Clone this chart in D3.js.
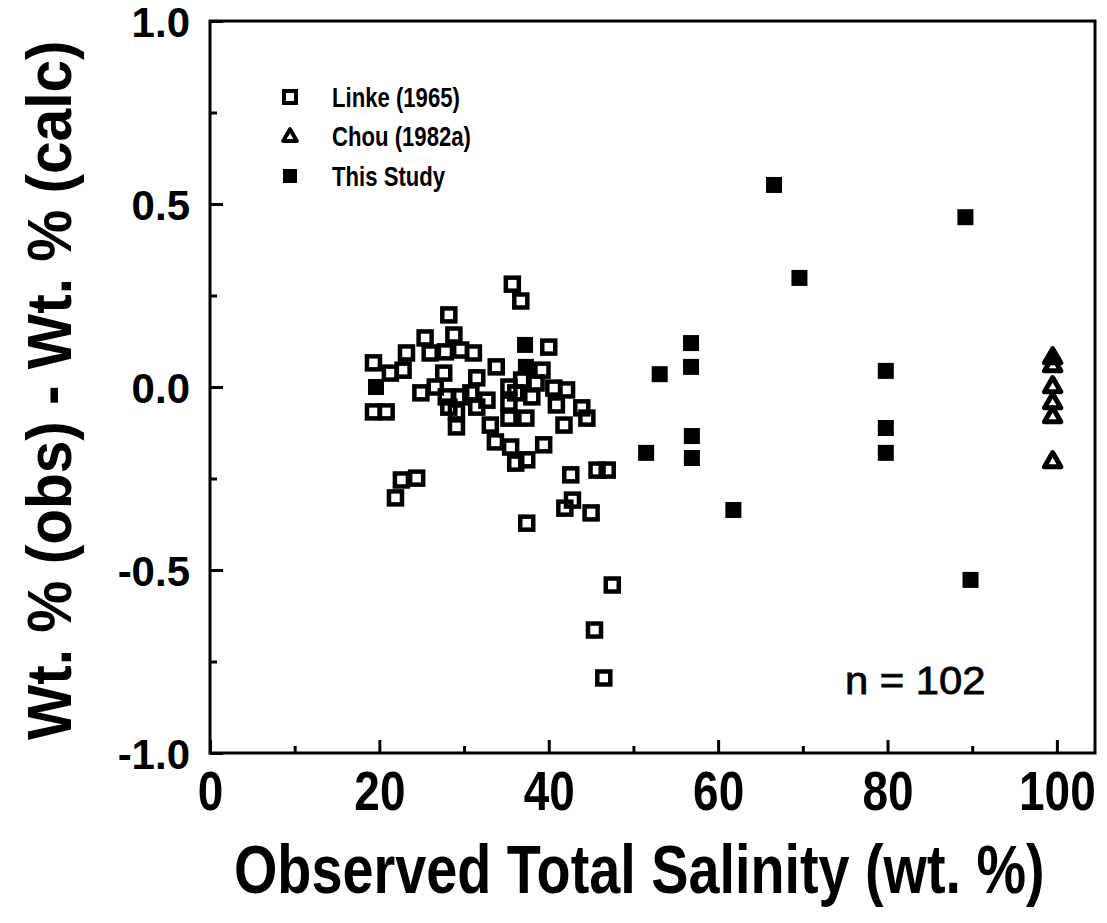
<!DOCTYPE html>
<html>
<head>
<meta charset="utf-8">
<script src="https://cdn.jsdelivr.net/npm/d3@7"></script>
<style>
  html, body { margin: 0; padding: 0; background: #fff; }
  svg { display: block; }
  text { font-family: "Liberation Sans", Arial, Helvetica, sans-serif; fill: #000; }
</style>
</head>
<body>
<svg id="chart" width="1107" height="923"></svg>
<script>
// ---- Data ----
const linkeX = [35.7, 36.7, 28.2, 25.4, 28.8, 23.2, 26.0, 27.8, 29.6, 31.1,
                19.3, 21.3, 22.8, 33.8, 40.0, 39.2, 27.6, 31.5, 26.6, 24.9,
                27.9, 29.6, 30.8, 32.7, 35.3, 36.8, 38.5, 40.6, 42.1, 36.1,
                38.0, 40.9, 28.2, 29.1, 31.5, 35.3, 19.3, 20.8, 29.1, 33.1,
                35.3, 37.3, 41.8, 43.9, 44.5, 33.7, 35.5, 36.1, 37.4, 39.4,
                22.6, 24.4, 21.9, 42.6, 45.7, 46.9, 42.8, 41.9, 45.0, 37.4,
                47.5, 45.4, 46.5];
const linkeY = [0.281, 0.235, 0.197, 0.134, 0.142, 0.093, 0.093, 0.096, 0.101, 0.093,
                0.066, 0.038, 0.046, 0.055, 0.109, 0.046, 0.038, 0.025, 0.000, -0.016,
                -0.027, -0.027, -0.016, -0.036, 0.000, 0.019, 0.011, -0.003, -0.008, -0.016,
                -0.027, -0.049, -0.055, -0.068, -0.055, -0.044, -0.068, -0.068, -0.109, -0.104,
                -0.085, -0.085, -0.104, -0.057, -0.085, -0.150, -0.164, -0.208, -0.199, -0.158,
                -0.254, -0.249, -0.303, -0.240, -0.227, -0.227, -0.309, -0.331, -0.344, -0.372,
                -0.541, -0.664, -0.795];

const chouX = [99.5, 99.5, 99.5, 99.5, 99.5, 99.5];
const chouY = [0.079, 0.057, 0.000, -0.044, -0.082, -0.205];

const studyX = [19.6, 37.2, 37.3, 51.5, 53.1, 56.8, 56.8, 56.9, 56.9, 61.8,
                66.6, 69.6, 79.8, 79.8, 79.8, 89.2, 89.8];
const studyY = [0.000, 0.115, 0.055, -0.180, 0.035, 0.120, 0.055, -0.134, -0.194, -0.336,
                0.552, 0.298, 0.044, -0.112, -0.180, 0.464, -0.527];

const xMajorTicks = [0, 20, 40, 60, 80, 100];
const xMinorTicks = [10, 30, 50, 70, 90];
const yMajorTicks = [-1.0, -0.5, 0.0, 0.5, 1.0];
const yMinorTicks = [-0.75, -0.25, 0.25, 0.75];

const legendLabels = ["Linke (1965)", "Chou (1982a)", "This Study"];
const xTitle = "Observed Total Salinity (wt. %)";
const yTitle = "Wt. % (obs) - Wt. % (calc)";
const noteText = "n = 102";

// ---- Layout ----
const svg = d3.select("#chart");
const L = 210, R = 1095, T = 21, B = 753;

const x = d3.scaleLinear().domain([0, 104.5]).range([L, R]);
const y = d3.scaleLinear().domain([-1, 1]).range([B, T]);

const fmtY = d => d3.format(".1f")(d).replace("\u2212", "-");

// Axes (ticks inward)
const xAxisMajor = d3.axisBottom(x).tickValues(xMajorTicks).tickSize(-13).tickPadding(17)
  .tickFormat(d3.format("d"));
const xAxisMinor = d3.axisBottom(x).tickValues(xMinorTicks).tickSize(-7).tickFormat("");
const yAxisMajor = d3.axisLeft(y).tickValues(yMajorTicks).tickSize(-13).tickPadding(20)
  .tickFormat(fmtY);
const yAxisMinor = d3.axisLeft(y).tickValues(yMinorTicks).tickSize(-7).tickFormat("");

function styleAxis(g) {
  g.select(".domain").remove();
  g.selectAll(".tick line").attr("stroke", "#000").attr("stroke-width", 3);
}

const gx = svg.append("g").attr("transform", `translate(0,${B})`).call(xAxisMajor).call(styleAxis);
gx.selectAll(".tick text")
  .attr("font-size", 56).attr("font-weight", "bold")
  .attr("font-family", "Liberation Sans, Arial, sans-serif")
  .attr("transform", "scale(0.82,1)");
svg.append("g").attr("transform", `translate(0,${B})`).call(xAxisMinor).call(styleAxis);

const gy = svg.append("g").attr("transform", `translate(${L},0)`).call(yAxisMajor).call(styleAxis);
gy.selectAll(".tick text")
  .attr("font-size", 42).attr("font-weight", "bold")
  .attr("font-family", "Liberation Sans, Arial, sans-serif")
  .attr("dy", "0.36em");
svg.append("g").attr("transform", `translate(${L},0)`).call(yAxisMinor).call(styleAxis);

// Frame
svg.append("rect")
  .attr("x", L).attr("y", T).attr("width", R - L).attr("height", B - T)
  .attr("fill", "none").attr("stroke", "#000").attr("stroke-width", 3);

// Markers
const sqOpen = 13, sqFilled = 16;
const linke = d3.range(linkeX.length).map(i => ({x: linkeX[i], y: linkeY[i]}));
const chou = d3.range(chouX.length).map(i => ({x: chouX[i], y: chouY[i]}));
const study = d3.range(studyX.length).map(i => ({x: studyX[i], y: studyY[i]}));

svg.append("g").selectAll("rect").data(linke).join("rect")
  .attr("x", d => x(d.x) - sqOpen / 2).attr("y", d => y(d.y) - sqOpen / 2)
  .attr("width", sqOpen).attr("height", sqOpen)
  .attr("fill", "none").attr("stroke", "#000").attr("stroke-width", 4.5);

const tri = d3.symbol().type(d3.symbolTriangle).size(115);
svg.append("g").selectAll("path").data(chou).join("path")
  .attr("d", tri)
  .attr("transform", d => `translate(${x(d.x)},${y(d.y)})`)
  .attr("fill", "none").attr("stroke", "#000").attr("stroke-width", 5)
  .attr("stroke-linejoin", "round");

svg.append("g").selectAll("rect").data(study).join("rect")
  .attr("x", d => x(d.x) - sqFilled / 2).attr("y", d => y(d.y) - sqFilled / 2)
  .attr("width", sqFilled).attr("height", sqFilled)
  .attr("fill", "#000");

// Legend
const legY = [97, 136, 176];
const legX = 290, legTextX = 332;
const lg = svg.append("g");
lg.append("rect").attr("x", legX - 6).attr("y", legY[0] - 6).attr("width", 12).attr("height", 12)
  .attr("fill", "none").attr("stroke", "#000").attr("stroke-width", 4);
lg.append("path").attr("d", d3.symbol().type(d3.symbolTriangle).size(80))
  .attr("transform", `translate(${legX},${legY[1] + 1})`)
  .attr("fill", "none").attr("stroke", "#000").attr("stroke-width", 4).attr("stroke-linejoin", "round");
lg.append("rect").attr("x", legX - 7).attr("y", legY[2] - 7).attr("width", 14).attr("height", 14)
  .attr("fill", "#000");
lg.selectAll("text").data(legendLabels).join("text")
  .attr("transform", (d, i) => `translate(${legTextX},${legY[i]}) scale(0.82,1)`)
  .attr("dy", "0.36em")
  .attr("font-size", 27).attr("font-weight", "bold")
  .text(d => d);

// Note
svg.append("text").attr("transform", "translate(845,694) scale(1.1,1)")
  .attr("font-size", 38).attr("stroke", "#000").attr("stroke-width", 0.8)
  .text(noteText);

// Axis titles
svg.append("text").attr("transform", "translate(234,893) scale(0.82,1)")
  .attr("font-size", 68).attr("font-weight", "bold")
  .text(xTitle);

svg.append("text")
  .attr("transform", "translate(71,740) rotate(-90) scale(0.945,1)")
  .attr("font-size", 62).attr("font-weight", "bold")
  .text(yTitle);
</script>
</body>
</html>
